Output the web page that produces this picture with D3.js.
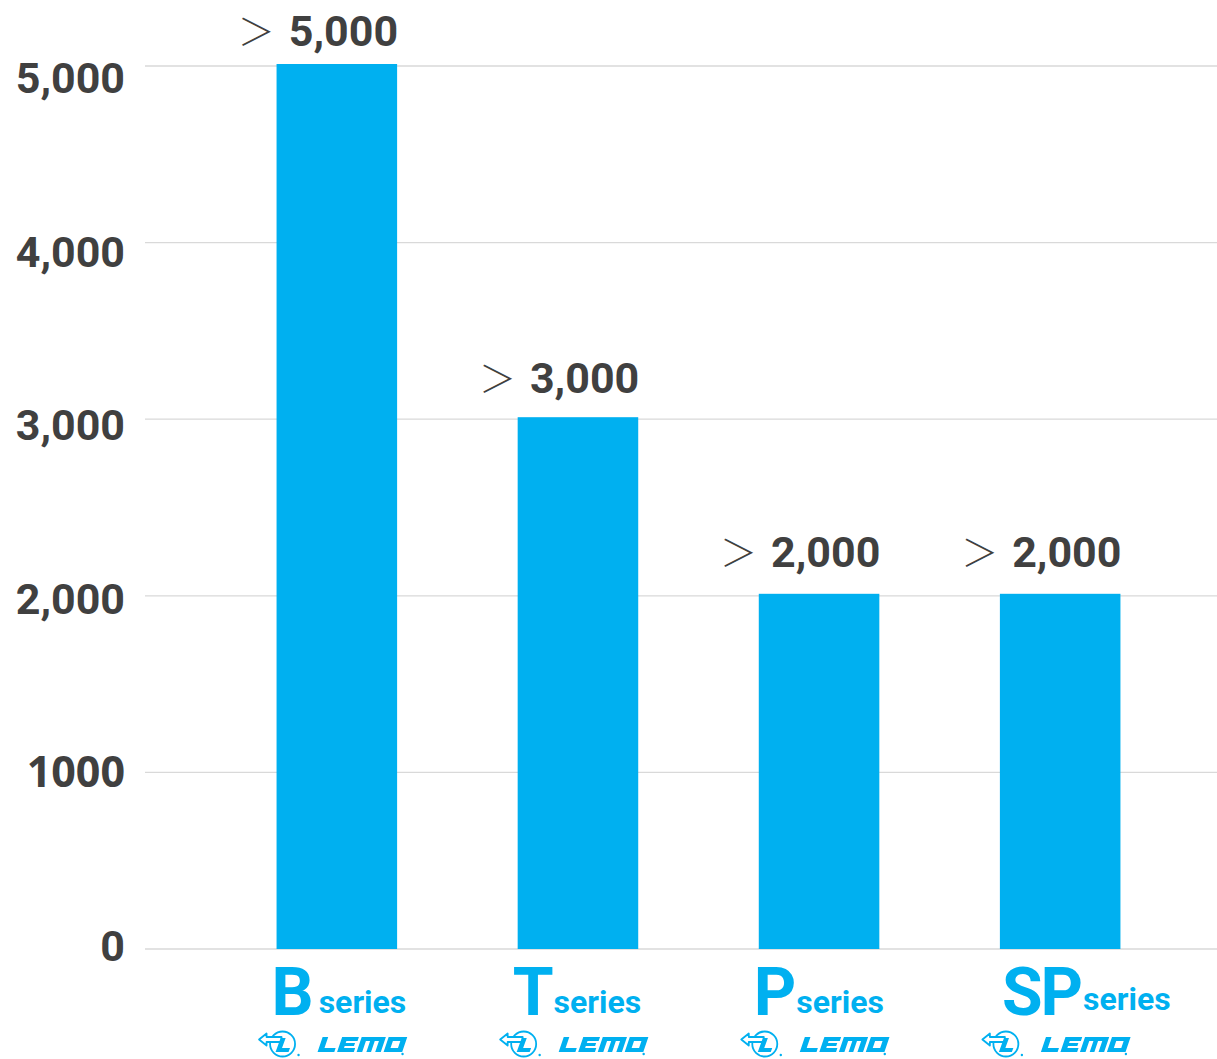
<!DOCTYPE html>
<html>
<head>
<meta charset="utf-8">
<style>
  body { margin: 0; background: #fff; }
  svg text { font-family: Roboto, "Noto Sans", sans-serif; }
</style>
</head>
<body>
<svg id="chart"></svg>
<script src="https://cdn.jsdelivr.net/npm/d3@7/dist/d3.min.js"></script>
<script>
// chart data
var categories = ["B", "T", "P", "SP"];
var values = [5000, 3000, 2000, 2000];
var valueLabels = ["5,000", "3,000", "2,000", "2,000"];
var tickValues = [0, 1000, 2000, 3000, 4000, 5000];
var tickLabels = ["0", "1000", "2,000", "3,000", "4,000", "5,000"];

var width = 1217, height = 1059;
var blue = "#00b0f0", ink = "#404040";

var svg = d3.select("#chart").attr("width", width).attr("height", height);

var x = d3.scaleBand()
  .domain(categories)
  .range([156, 1241])
  .paddingInner(0.5)
  .paddingOuter(0.5);

var y = d3.scaleLinear()
  .domain([0, 5000])
  .range([949, 66]);

// the text layer of the original sits on a slightly tighter scale than the grid
var yText = d3.scaleLinear()
  .domain([0, 5000])
  .range([945, 77]);

// gridlines
svg.append("g").selectAll("line")
  .data(tickValues)
  .enter().append("line")
    .attr("x1", 145).attr("x2", width)
    .attr("y1", function(d) { return y(d); })
    .attr("y2", function(d) { return y(d); })
    .attr("stroke", "#d9d9d9")
    .attr("stroke-width", 1.3);

// y tick labels
svg.append("g").selectAll("text")
  .data(tickValues)
  .enter().append("text")
    .attr("x", 125)
    .attr("y", function(d) { return yText(d) + 16; })
    .attr("text-anchor", "end")
    .attr("font-size", "43px")
    .attr("font-weight", "bold")
    .attr("fill", ink)
    .style("font-family", function(d) { return d === 1000 ? "'Open Sans', sans-serif" : null; })
    .text(function(d, i) { return tickLabels[i]; });

// bars
svg.append("g").selectAll("rect")
  .data(values)
  .enter().append("rect")
    .attr("x", function(d, i) { return x(categories[i]); })
    .attr("y", function(d) { return y(d) - 2; })
    .attr("width", x.bandwidth())
    .attr("height", function(d) { return y(0) - y(d) + 2; })
    .attr("fill", blue);

// value labels
var vl = svg.append("g").selectAll("text")
  .data(values)
  .enter().append("text")
    .attr("x", function(d, i) { return x(categories[i]) + x.bandwidth() + 1; })
    .attr("y", function(d) { return yText(d) - 31; })
    .attr("text-anchor", "end")
    .attr("font-size", "43px")
    .attr("fill", ink);
vl.append("tspan")
  .style("font-family", "'Noto Sans CJK JP', sans-serif")
  .attr("font-size", "37px")
  .attr("font-weight", "300")
  .text("＞");
vl.append("tspan")
  .attr("font-weight", "bold")
  .attr("dx", 14)
  .text(function(d, i) { return valueLabels[i]; });

// category labels
var cl = svg.append("g").selectAll("text")
  .data(categories)
  .enter().append("text")
    .attr("x", function(d) { return x(d) + (d === "SP" ? 2 : -5); })
    .attr("y", 1015)
    .attr("font-weight", "bold")
    .attr("fill", blue);
cl.append("tspan")
  .attr("font-size", "66px")
  .attr("letter-spacing", "-2px")
  .text(function(d) { return d; });
cl.append("tspan")
  .attr("font-size", "32px")
  .attr("dx", function(d) { return d === "B" ? 7 : 2; })
  .attr("dy", function(d) { return d === "SP" ? -5 : -2; })
  .text("series");

// LEMO logos
var logo = svg.append("g").selectAll("g")
  .data(categories)
  .enter().append("g")
    .attr("transform", function(d) { return "translate(" + (x(d) - 19) + ",1030)"; });

logo.append("circle")
  .attr("cx", 25).attr("cy", 14).attr("r", 12.5)
  .attr("fill", "none").attr("stroke", blue).attr("stroke-width", 1.8);
logo.append("path")
  .attr("d", "M1.5,9.5 L9,3.5 L9,7 L24,7 L24,12 L9,12 L9,15.5 Z")
  .attr("fill", "#fff").attr("stroke", blue).attr("stroke-width", 1.8)
  .attr("stroke-linejoin", "round");
logo.append("path")
  .attr("transform", "translate(18,22) skewX(-20)")
  .attr("d", "M0,-14 H5 V-4 H13 V0 H0 Z")
  .attr("fill", blue);
logo.append("circle")
  .attr("cx", 41).attr("cy", 25).attr("r", 1.2)
  .attr("fill", blue);

// LEMO wordmark, blocky italic letters
var lemo = logo.append("g")
  .attr("transform", "translate(60,1052) translate(0,-1030) scale(0.93,1) skewX(-20)");
lemo.append("path")
  .attr("fill", blue)
  .attr("fill-rule", "evenodd")
  .attr("d",
    "M0,-15 H6 V-4 H18 V0 H0 Z " +
    "M21,-15 H39 V-11 H27 V-9 H37 V-6 H27 V-4 H39 V0 H21 Z " +
    "M42,-15 H68 V0 H62 V-11 H57.5 V0 H52.5 V-11 H48 V0 H42 Z " +
    "M71,-15 H91 V0 H71 Z M77,-11 H85 V-4 H77 Z");
logo.append("circle")
  .attr("cx", 145).attr("cy", 24).attr("r", 1.2)
  .attr("fill", blue);
</script>
</body>
</html>
